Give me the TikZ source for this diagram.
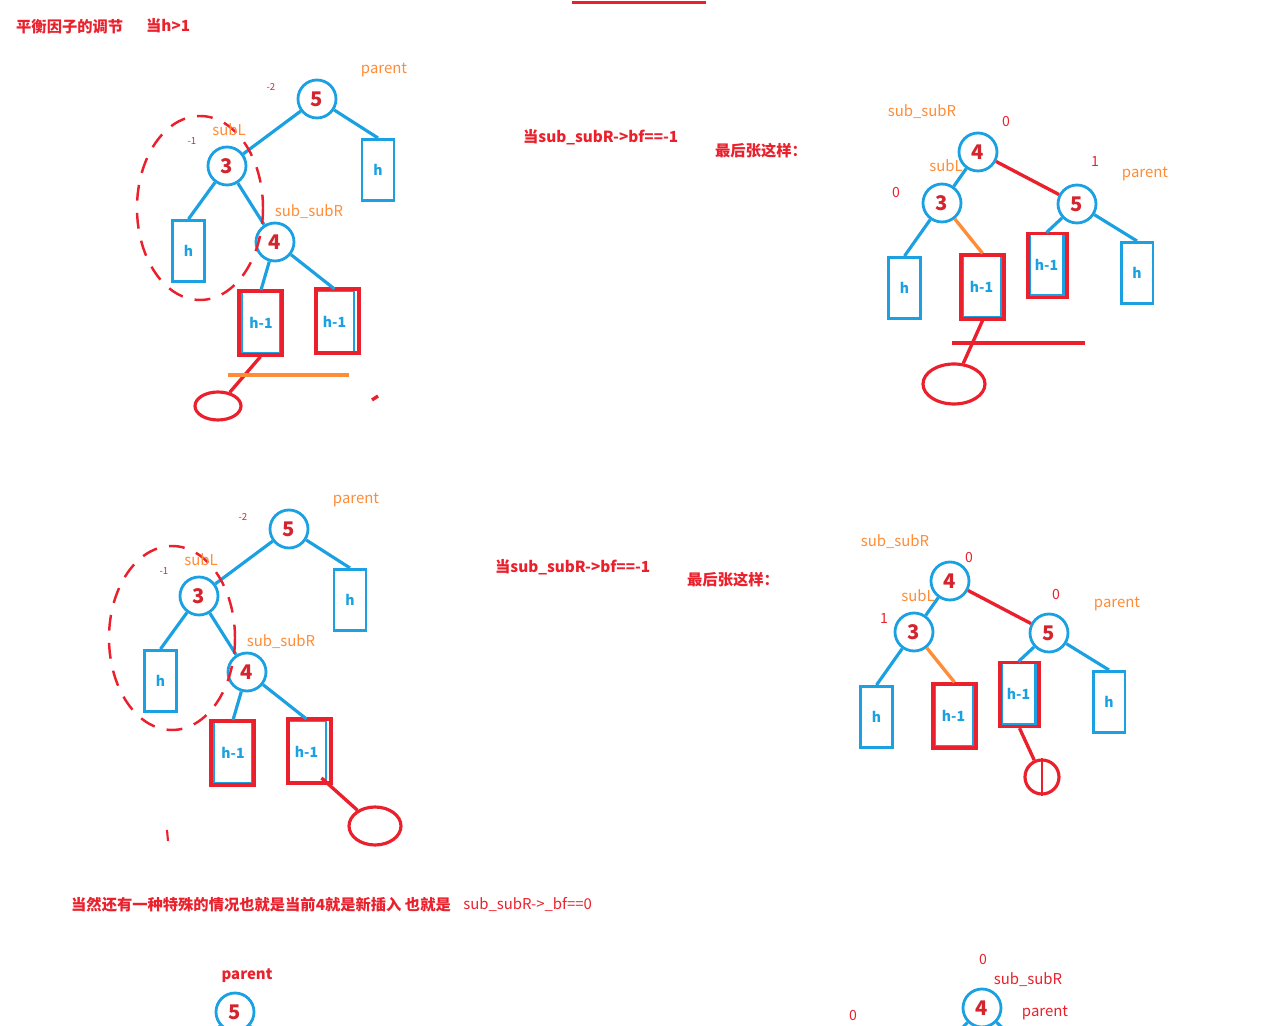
\documentclass[tikz,border=0pt]{standalone}
\usepackage{fontspec}
\setmainfont{Noto Sans CJK SC}
\usepackage{xcolor}
\usetikzlibrary{shapes.geometric,positioning}
\definecolor{tblue}{RGB}{27,161,226}
\definecolor{tred}{RGB}{234,32,44}
\definecolor{tdred}{RGB}{212,36,46}
\definecolor{torange}{RGB}{255,140,55}

\begin{document}
\begin{tikzpicture}[
        x=0.02cm, y=-0.02cm,
        bnode/.style={circle,draw=tblue,line width=1.6pt,minimum size=0.76cm,inner sep=0pt,text=tdred,font=\fontsize{11.5}{12}\selectfont\bfseries},
        hbox/.style={rectangle,draw=tblue,line width=1.7pt,minimum width=0.64cm,minimum height=1.22cm,inner sep=0pt,text=tblue,font=\fontsize{8}{9}\selectfont\bfseries},
        hmbox/.style={hbox,minimum width=0.78cm,minimum height=1.24cm},
        rbox/.style={rectangle,draw=tred,line width=1.9pt,minimum width=0.86cm,minimum height=1.28cm,inner sep=0pt},
        leaf/.style={ellipse,draw=tred,line width=1.8pt,minimum width=0.92cm,minimum height=0.56cm,inner sep=0pt},
        bline/.style={draw=tblue,line width=1.8pt},
        rline/.style={draw=tred,line width=1.9pt},
        oline/.style={draw=torange,line width=1.9pt},
        rdash/.style={draw=tred,line width=1.4pt,dash pattern=on 9pt off 7pt},
        olabel/.style={text=torange,font=\fontsize{8.5}{9}\selectfont},
        rlabel/.style={text=tred,font=\fontsize{8.5}{9}\selectfont},
        bfsmall/.style={text=tred,font=\fontsize{5.5}{6}\selectfont},
        bfnum/.style={text=tred,font=\fontsize{8}{9}\selectfont},
        headline/.style={anchor=west,text=tred,font=\fontsize{8.7}{10}\selectfont\bfseries}
    ]
        \clip (0,0) rectangle (1269,1026);

        % titles
        \node[headline] (title) at (10,27) {平衡因子的调节};
        \node[headline] (cond) at (140,26) {当h>1};
        \draw[rline] (572,2.5) -- (706,2.5);

        % tree 1: before, h-1 inserted left
        \node[bnode] (a5) at (317,99) {5};
        \node[bnode] (a3) at (227,166) {3};
        \node[bnode] (a4) at (275,242) {4};
        \node[hbox] (ah1) at (378,170) {h};
        \node[hbox] (ah2) at (188.5,251) {h};
        \node[hmbox] (am1) at (261,322.5) {h-1};
        \node[rbox] (ar1) at (260.5,323) {};
        \node[hmbox] (am2) at (334.5,321.5) {h-1};
        \node[rbox] (ar2) at (337.5,321) {};
        \node[leaf] (e1) at (218,406) {};

        \draw[bline] (a5) -- (a3);
        \draw[bline] (a5) -- (ah1.north);
        \draw[bline] (a3) -- (ah2.north);
        \draw[bline] (a3) -- (a4);
        \draw[bline] (a4) -- (am1.north);
        \draw[bline] (a4) -- (am2.north);
        \draw[rline] (ar1.south) -- (e1);
        \draw[oline] (228,375) -- (349,375);
        \draw[rdash] (200,208) ellipse [x radius=63, y radius=92];
        \draw[rline] (372,400) -- (378,396);

        \node[olabel] at (384,70) {parent};
        \node[olabel] at (229,130) {subL};
        \node[olabel] at (309,212) {sub\_subR};
        \node[bfsmall] at (271,87) {-2};
        \node[bfsmall] at (192,141) {-1};

        % middle texts
        \node[headline] (case1) at (517,137) {当sub\_subR->bf==-1};
        \node[headline] (res1) at (709,151) {最后张这样：};

        % tree 2: after rotation
        \node[bnode] (b4) at (978,152) {4};
        \node[bnode] (b3) at (942,203) {3};
        \node[bnode] (b5) at (1077,204) {5};
        \node[hbox] (bh1) at (904.5,288) {h};
        \node[hmbox] (bm1) at (981.5,287) {h-1};
        \node[rbox] (br1) at (982.5,287) {};
        \node[hmbox,minimum width=0.68cm] (bm2) at (1046.5,265) {h-1};
        \node[rbox,minimum width=0.78cm] (br2) at (1047.5,265.5) {};
        \node[hbox] (bh2) at (1137,273) {h};
        \node[leaf,minimum width=1.24cm,minimum height=0.8cm] (e2) at (954,384) {};

        \draw[bline] (b3) -- (b4);
        \draw[rline] (b4) -- (b5);
        \draw[bline] (b3) -- (bh1.north);
        \draw[oline] (b3) -- (br1.north);
        \draw[bline] (b5) -- (bm2.north);
        \draw[bline] (b5) -- (bh2.north);
        \draw[rline] (br1.south) -- (e2);
        \draw[rline] (952,343) -- (1085,343);

        \node[olabel] at (922,112) {sub\_subR};
        \node[olabel] at (946,166) {subL};
        \node[olabel] at (1145,174) {parent};
        \node[bfnum] at (1006,121) {0};
        \node[bfnum] at (1095,161) {1};
        \node[bfnum] at (896,192) {0};

        % tree 3: h-1 inserted right
        \begin{scope}[shift={(-28,430)}]
            \node[bnode] (c5) at (317,99) {5};
            \node[bnode] (c3) at (227,166) {3};
            \node[bnode] (c4) at (275,242) {4};
            \node[hbox] (ch1) at (378,170) {h};
            \node[hbox] (ch2) at (188.5,251) {h};
            \node[hmbox] (cm1) at (261,322.5) {h-1};
            \node[rbox] (cr1) at (260.5,323) {};
            \node[hmbox] (cm2) at (334.5,321.5) {h-1};
            \node[rbox] (cr2) at (337.5,321) {};
            \node[leaf,minimum width=1.04cm,minimum height=0.76cm] (e3) at (403,396) {};

            \draw[bline] (c5) -- (c3);
            \draw[bline] (c5) -- (ch1.north);
            \draw[bline] (c3) -- (ch2.north);
            \draw[bline] (c3) -- (c4);
            \draw[bline] (c4) -- (cm1.north);
            \draw[bline] (c4) -- (cm2.north);
            \draw[rline,shorten <=-0.2cm] (cr2.-60) -- (e3);
            \draw[rdash] (200,208) ellipse [x radius=63, y radius=92];

            \node[olabel] at (384,70) {parent};
            \node[olabel] at (229,130) {subL};
            \node[olabel] at (309,212) {sub\_subR};
            \node[bfsmall] at (271,87) {-2};
            \node[bfsmall] at (192,141) {-1};
        \end{scope}
        \draw[rline,line width=1.2pt] (167,830) -- (168,841);

        \node[headline] (case2) at (489,567) {当sub\_subR->bf==-1};
        \node[headline] (res2) at (681,580) {最后张这样：};

        % tree 4: after rotation
        \begin{scope}[shift={(-28,429)}]
            \node[bnode] (d4) at (978,152) {4};
            \node[bnode] (d3) at (942,203) {3};
            \node[bnode] (d5) at (1077,204) {5};
            \node[hbox] (dh1) at (904.5,288) {h};
            \node[hmbox] (dm1) at (981.5,287) {h-1};
            \node[rbox] (dr1) at (982.5,287) {};
            \node[hmbox,minimum width=0.68cm] (dm2) at (1046.5,265) {h-1};
            \node[rbox,minimum width=0.78cm] (dr2) at (1047.5,265.5) {};
            \node[hbox] (dh2) at (1137,273) {h};
            \node[circle,draw=tred,line width=1.8pt,minimum size=0.68cm] (e4) at (1070,348) {};

            \draw[bline] (d3) -- (d4);
            \draw[rline] (d4) -- (d5);
            \draw[bline] (d3) -- (dh1.north);
            \draw[oline] (d3) -- (dr1.north);
            \draw[bline] (d5) -- (dm2.north);
            \draw[bline] (d5) -- (dh2.north);
            \draw[rline] (dr2.south) -- (e4);
            \draw[rline,line width=1pt] (e4.north) -- (e4.south);
        \end{scope}

        \node[olabel] at (895,542) {sub\_subR};
        \node[olabel] at (918,596) {subL};
        \node[olabel] at (1117,604) {parent};
        \node[bfnum] at (969,557) {0};
        \node[bfnum] at (1056,594) {0};
        \node[bfnum] at (884,618) {1};

        % special case
        \node[headline] (extra) at (65,905) {当然还有一种特殊的情况也就是当前4就是新插入 也就是};
        \node[rlabel,right=0pt of extra] (extrabf) {sub\_subR->\_bf==0};

        \node[bnode] (f5) at (235,1012) {5};
        \node[rlabel,font=\fontsize{8.5}{9}\selectfont\bfseries] at (247,976) {parent};
        \coordinate (fl) at (200,1045);
        \coordinate (fr) at (270,1045);
        \draw[bline] (f5) -- (fl);
        \draw[bline] (f5) -- (fr);

        \node[bnode] (g4) at (982,1008) {4};
        \node[rlabel] at (1028,980) {sub\_subR};
        \node[rlabel] at (1045,1013) {parent};
        \node[bfnum] at (983,959) {0};
        \node[bfnum] at (853,1015) {0};
        \coordinate (gl) at (945,1045);
        \coordinate (gr) at (1020,1045);
        \draw[bline] (g4) -- (gl);
        \draw[bline] (g4) -- (gr);
    \end{tikzpicture}
\end{document}
